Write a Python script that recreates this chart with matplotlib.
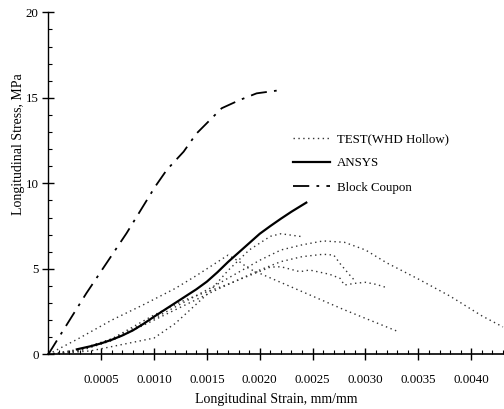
import matplotlib.pyplot as plt
from matplotlib.ticker import MultipleLocator, FixedLocator

# --- data ---
block_x = [0, 0.00036, 0.00074, 0.00101, 0.00112, 0.00128, 0.0014, 0.00164, 0.00181, 0.00197, 0.00216]
block_y = [0, 3.57, 7.08, 9.8, 10.78, 11.85, 12.9, 14.39, 14.87, 15.26, 15.42]

ansys_x = [0.00027, 0.0004, 0.0005, 0.0006, 0.0007, 0.0008, 0.0009, 0.001, 0.0011, 0.0012,
           0.0013, 0.0014, 0.0015, 0.0016, 0.0017, 0.0018, 0.0019, 0.002, 0.0021, 0.0022,
           0.0023, 0.00244]
ansys_y = [0.29, 0.47, 0.64, 0.85, 1.1, 1.4, 1.78, 2.2, 2.6, 3.0,
           3.4, 3.8, 4.25, 4.8, 5.4, 5.95, 6.5, 7.05, 7.5, 7.93,
           8.34, 8.87]

test_a_x = [0, 0.00028, 0.0006, 0.0009, 0.0012, 0.0014, 0.0017, 0.0018, 0.0019, 0.0022, 0.0028, 0.0033]
test_a_y = [0, 0.9, 2.0, 2.9, 3.85, 4.6, 5.8, 5.45, 5.0, 4.2, 2.6, 1.35]

test_b_x = [0, 0.0004, 0.001, 0.0012, 0.0015, 0.0017, 0.0019, 0.0021, 0.0022, 0.0024]
test_b_y = [0, 0.2, 0.95, 1.8, 3.5, 4.9, 6.1, 6.9, 7.05, 6.88]

test_c_x = [0, 0.0003, 0.0006, 0.001, 0.0013, 0.0016, 0.002, 0.0022, 0.0024, 0.0026,
            0.0028, 0.003, 0.0032, 0.0035, 0.0038, 0.0041, 0.0043]
test_c_y = [0, 0.3, 0.9, 2.1, 3.1, 4.1, 5.5, 6.1, 6.4, 6.63,
            6.55, 6.1, 5.35, 4.4, 3.4, 2.25, 1.6]

test_d_x = [0, 0.0003, 0.0006, 0.001, 0.0013, 0.0016, 0.002, 0.0022, 0.0024, 0.0026,
            0.0027, 0.00276, 0.00285, 0.0029]
test_d_y = [0, 0.2, 0.8, 2.0, 2.9, 3.8, 4.93, 5.42, 5.71, 5.85,
            5.8, 5.3, 4.64, 4.3]

test_e_x = [0, 0.0003, 0.0006, 0.001, 0.0013, 0.0017, 0.002, 0.0021, 0.0022, 0.00238,
            0.00247, 0.00266, 0.00276, 0.0028, 0.0029, 0.003, 0.0031, 0.0032]
test_e_y = [0, 0.25, 0.9, 2.3, 3.2, 4.1, 4.85, 5.1, 5.12, 4.83,
            4.93, 4.68, 4.44, 4.05, 4.15, 4.21, 4.09, 3.9]

tests = [(test_a_x, test_a_y), (test_b_x, test_b_y), (test_c_x, test_c_y),
         (test_d_x, test_d_y), (test_e_x, test_e_y)]

x_ticks = [0.0005, 0.0010, 0.0015, 0.0020, 0.0025, 0.0030, 0.0035, 0.0040]
x_tick_labels = ["0.0005", "0.0010", "0.0015", "0.0020", "0.0025", "0.0030", "0.0035", "0.0040"]
y_ticks = [0, 5, 10, 15, 20]

plt.rcParams['font.family'] = ['Liberation Serif', 'DejaVu Serif']

fig = plt.figure(figsize=(5.04, 4.09), dpi=100)
ax = fig.add_axes([48.3 / 504, (409 - 354.3) / 409, (504 - 48.3) / 504, (354.3 - 12.3) / 409])

dotted = (0, (1, 2.5))
for i, (tx, ty) in enumerate(tests):
    ax.plot(tx, ty, color='#333333', lw=1.0, ls=dotted,
            label="TEST(WHD Hollow)" if i == 0 else None)

ax.plot(ansys_x, ansys_y, color='black', lw=1.6, label="ANSYS")
ax.plot(block_x, block_y, color='black', lw=1.3, ls=(0, (9, 4, 1.5, 4)), label="Block Coupon")

ax.set_xlim(0, 0.00431)
ax.set_ylim(0, 20)
ax.xaxis.set_major_locator(FixedLocator(x_ticks))
ax.set_xticklabels(x_tick_labels)
ax.xaxis.set_minor_locator(MultipleLocator(0.0001))
ax.set_yticks(y_ticks)
ax.yaxis.set_minor_locator(MultipleLocator(1))

for s in ['top', 'right']:
    ax.spines[s].set_visible(False)
ax.spines['left'].set_linewidth(1.0)
ax.spines['bottom'].set_linewidth(1.2)

ax.tick_params(axis='both', which='major', direction='inout', length=8, width=1.0, labelsize=9.3)
ax.tick_params(axis='x', which='major', pad=10)
ax.tick_params(axis='y', which='major', pad=3)
ax.tick_params(axis='both', which='minor', direction='in', length=3, width=0.8)

ax.set_xlabel("Longitudinal Strain, mm/mm", fontsize=10, labelpad=5)
ax.set_ylabel("Longitudinal Stress, MPa", fontsize=10)
ax.yaxis.set_label_coords(-0.051, 0.615)

ax.legend(loc='upper left', bbox_to_anchor=(293 / 504, (409 - 133) / 409),
          bbox_transform=fig.transFigure, frameon=False, fontsize=9.3,
          handlelength=2.9, handletextpad=0.5, labelspacing=0.95,
          borderpad=0, borderaxespad=0)

fig.savefig("out.png", dpi=100)
